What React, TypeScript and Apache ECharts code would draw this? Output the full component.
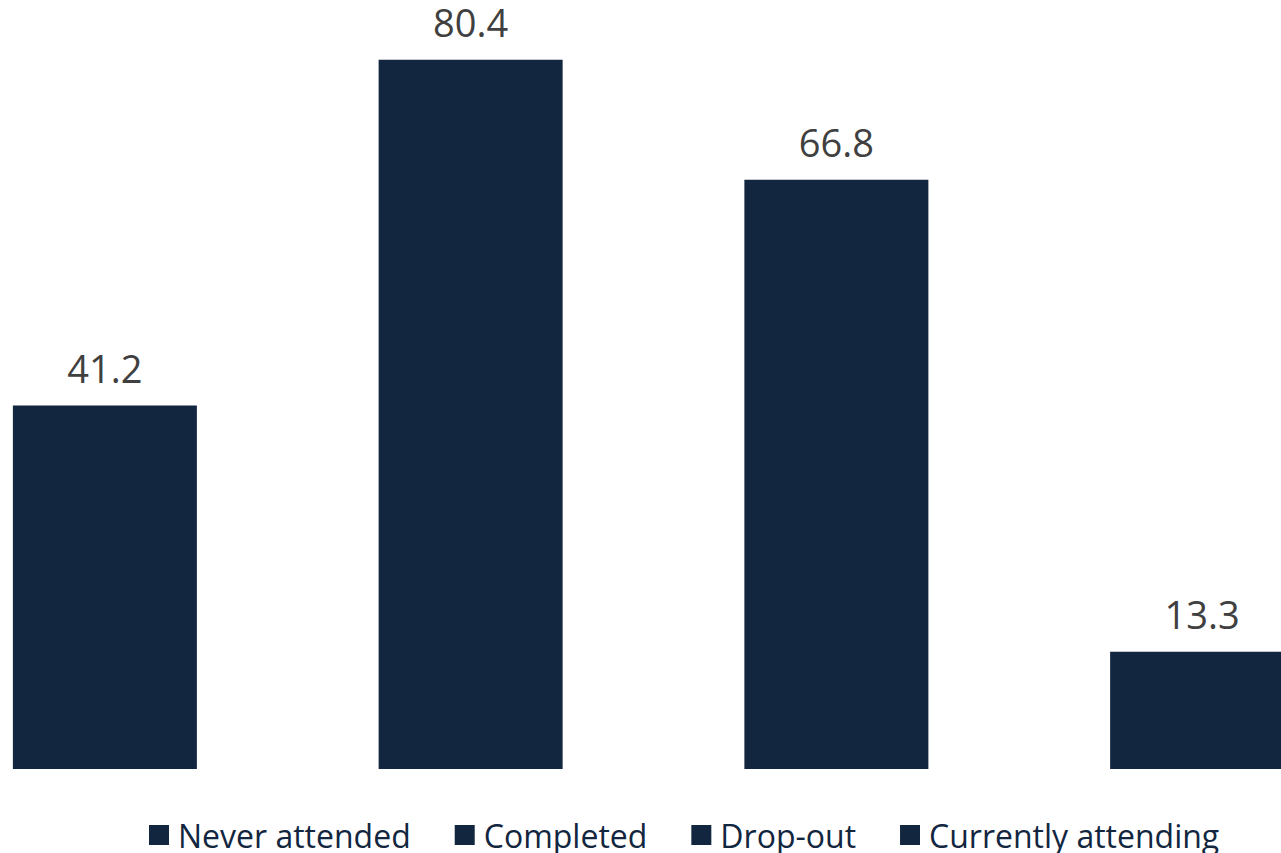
import React, { useEffect, useRef } from "react";
import * as echarts from "echarts";

// School attendance status shares (%)
const categories = ["Never attended", "Completed", "Drop-out", "Currently attending"];
const values = [41.2, 80.4, 66.8, 13.3];
const barColor = "#13263F";

export default function App() {
  const ref = useRef<HTMLDivElement>(null);

  useEffect(() => {
    if (!ref.current) return;
    const chart = echarts.init(ref.current, undefined, { renderer: "svg" });

    const series = categories.map((name, i) => ({
      name,
      type: "bar" as const,
      barWidth: 184,
      barGap: "-100%",
      itemStyle: { color: barColor },
      label: {
        show: true,
        position: "top" as const,
        distance: 19,
        color: "#404040",
        fontSize: 38,
        fontFamily: "Open Sans",
        formatter: (p: any) => p.value.toFixed(1),
      },
      data: categories.map((_, j) => (j === i ? values[i] : "-")),
    }));

    chart.setOption({
      animation: false,
      grid: { left: 0, right: 0, top: 0, bottom: 84, containLabel: false },
      xAxis: {
        type: "category",
        data: categories,
        axisLine: { show: false },
        axisTick: { show: false },
        axisLabel: { show: false },
      },
      yAxis: {
        type: "value",
        min: 0,
        max: 90,
        show: false,
        splitLine: { show: false },
      },
      legend: {
        left: 222,
        top: 839,
        icon: "rect",
        itemWidth: 20,
        itemHeight: 20,
        itemGap: 44,
        textStyle: {
          color: "#13263F",
          fontSize: 32,
          fontFamily: "Open Sans",
          padding: [0, 0, 0, 4],
        },
        data: categories,
      },
      series,
    });

    return () => chart.dispose();
  }, []);

  return (
    <div
      style={{
        position: "fixed",
        left: 0,
        top: 0,
        width: 1281,
        height: 853,
        overflow: "hidden",
        background: "#ffffff",
      }}
    >
      <div
        ref={ref}
        style={{ position: "absolute", left: -78, top: -25, width: 1463, height: 878 }}
      />
    </div>
  );
}
